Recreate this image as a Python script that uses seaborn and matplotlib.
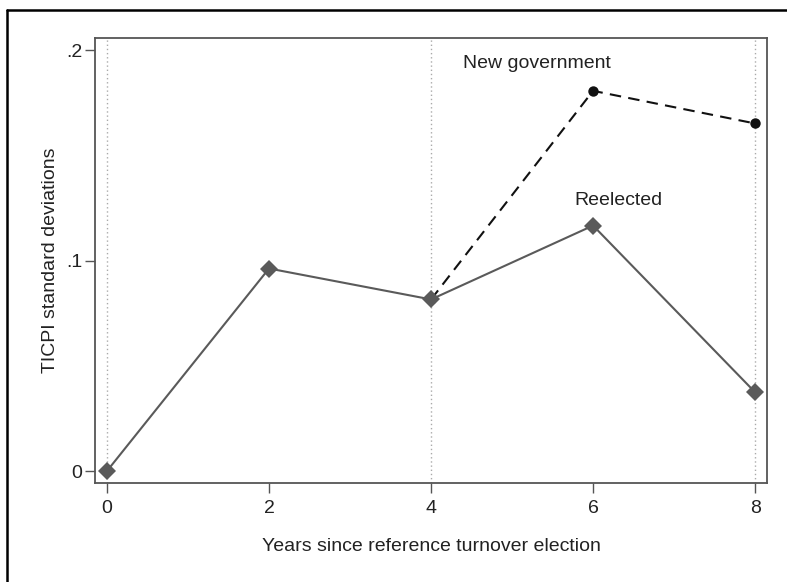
import matplotlib
matplotlib.use("Agg")
import matplotlib.pyplot as plt
from matplotlib.lines import Line2D
import seaborn as sns
import pandas as pd

# Years since the reference turnover election
years_reelected = [0, 2, 4, 6, 8]
ticpi_reelected = [0.0, 0.0962, 0.0815, 0.1166, 0.0374]

years_new_gov = [4, 6, 8]
ticpi_new_gov = [0.0815, 0.1806, 0.1651]

x_ticks = [0, 2, 4, 6, 8]
y_ticks = [0.0, 0.1, 0.2]
y_tick_labels = ["0", ".1", ".2"]
guide_years = [0, 4, 8]

sns.set_theme(style="white")
plt.rcParams["font.family"] = ["Liberation Sans", "DejaVu Sans"]

df_re = pd.DataFrame({"year": years_reelected, "ticpi": ticpi_reelected})
df_ng = pd.DataFrame({"year": years_new_gov, "ticpi": ticpi_new_gov})

fig = plt.figure(figsize=(7.87, 5.82), dpi=100)
ax = fig.add_axes([0.1207, 0.1701, 0.854, 0.7646])

for g in guide_years:
    ax.axvline(g, color="#aaaaaa", lw=1.0, ls=(0, (1, 2)), zorder=1)

sns.lineplot(data=df_ng, x="year", y="ticpi", ax=ax, color="#111111",
             lw=1.5, marker="o", markersize=7.5, markeredgewidth=0,
             linestyle=(0, (5.5, 3.5)), zorder=3)
sns.lineplot(data=df_re, x="year", y="ticpi", ax=ax, color="#5a5a5a",
             lw=1.5, marker="D", markersize=9, markeredgewidth=0, zorder=4)

ax.text(5.31, 0.1938, "New government", ha="center", va="center",
        fontsize=14, color="#222222")
ax.text(6.31, 0.1284, "Reelected", ha="center", va="center",
        fontsize=14, color="#222222")

ax.set_xlim(-0.148, 8.148)
ax.set_ylim(-0.0057, 0.2057)
ax.set_xticks(x_ticks)
ax.set_xticklabels([str(t) for t in x_ticks])
ax.set_yticks(y_ticks)
ax.set_yticklabels(y_tick_labels)

ax.set_xlabel("Years since reference turnover election", fontsize=14,
              color="#222222", labelpad=15)
ax.set_ylabel("TICPI standard deviations", fontsize=14, color="#222222",
              labelpad=5)

ax.tick_params(axis="both", which="major", direction="out", length=7,
               width=1.0, color="#555555", labelsize=14, labelcolor="#222222",
               bottom=True, left=True)
ax.tick_params(axis="x", pad=5)
ax.tick_params(axis="y", pad=2)
for sp in ax.spines.values():
    sp.set_color("#555555")
    sp.set_linewidth(1.3)

# Outer frame lines (top and left)
fig.add_artist(Line2D([7 / 787, 1.0], [1 - 10 / 582, 1 - 10 / 582],
                      transform=fig.transFigure, color="black", lw=1.8))
fig.add_artist(Line2D([7 / 787, 7 / 787], [0.0, 1 - 10 / 582],
                      transform=fig.transFigure, color="black", lw=1.8))

fig.savefig("out.png", dpi=100)
